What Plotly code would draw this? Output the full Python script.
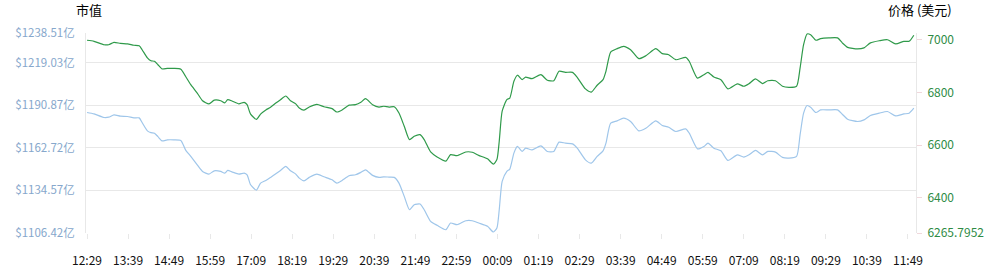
import pandas as pd
import plotly.graph_objects as go

# ---- data ----
times = [
    "12:29", "12:41", "12:58", "13:06", "13:15", "13:26", "13:38", "13:49", "13:58", "14:03",
    "14:12", "14:18", "14:24", "14:30", "14:37", "14:46", "14:57", "15:09", "15:17", "15:26",
    "15:37", "15:46", "15:57", "16:06", "16:17", "16:24", "16:29", "16:37", "16:48", "16:57",
    "17:02", "17:08", "17:18", "17:25", "17:34", "17:42", "17:51", "17:59", "18:08", "18:16",
    "18:25",
    "18:31", "18:39", "18:48", "19:01", "19:13", "19:27", "19:35", "19:44", "19:56", "20:07",
    "20:16", "20:24", "20:36", "20:47", "20:55", "21:04", "21:13", "21:21", "21:30", "21:39",
    "21:47", "21:57", "22:04", "22:15", "22:26", "22:41", "22:49", "23:00", "23:15", "23:26",
    "23:37", "23:52", "00:02", "00:08", "00:12", "00:17",
    "00:25", "00:30", "00:37", "00:43", "00:51", "00:57", "01:08", "01:23", "01:34", "01:45",
    "01:54", "02:05", "02:17", "02:25", "02:39", "02:49", "02:59", "03:09", "03:14", "03:22",
    "03:33", "03:44", "03:56", "04:10", "04:22", "04:39", "04:50", "05:01", "05:13", "05:30",
    "05:36", "05:50", "06:01", "06:08",
    "06:18", "06:30", "06:42", "06:58", "07:09", "07:18", "07:29", "07:41", "07:50", "08:03",
    "08:15", "08:26", "08:39", "08:45", "08:51", "08:57", "09:03", "09:12", "09:20", "09:34",
    "09:49", "09:57", "10:06", "10:23", "10:34", "10:45", "11:00", "11:14", "11:28", "11:42",
    "11:51", "11:59",
]

price_usd = [
    6999, 6995, 6982, 6982, 6991, 6987, 6985, 6980, 6978, 6963,
    6932, 6921, 6919, 6906, 6890, 6892, 6892, 6889, 6862, 6830,
    6798, 6769, 6757, 6771, 6769, 6761, 6773, 6767, 6757, 6763,
    6754, 6718, 6698, 6718, 6734, 6744, 6760, 6773, 6787, 6769,
    6757,
    6741, 6733, 6745, 6755, 6746, 6739, 6726, 6734, 6752, 6754,
    6763, 6777, 6754, 6745, 6748, 6745, 6746, 6722, 6672, 6621,
    6634, 6640, 6621, 6574, 6555, 6539, 6564, 6560, 6574, 6573,
    6561, 6548, 6528, 6545, 6615, 6729,
    6773, 6779, 6843, 6866, 6849, 6859, 6853, 6868, 6847, 6845,
    6881, 6877, 6877, 6858, 6814, 6802, 6828, 6849, 6881, 6954,
    6967, 6976, 6963, 6929, 6940, 6967, 6948, 6944, 6925, 6934,
    6919, 6855, 6868, 6877,
    6859, 6849, 6814, 6833, 6824, 6834, 6852, 6834, 6845, 6845,
    6824, 6820, 6824, 6893, 6982, 7023, 7020, 6999, 7005, 7008,
    7008, 6989, 6972, 6966, 6970, 6989, 6997, 7001, 6985, 6995,
    6995, 7018,
]

market_cap_yi = [
    1186.00, 1185.07, 1182.70, 1182.90, 1184.42, 1183.56, 1183.36, 1182.44, 1182.44, 1179.40,
    1173.87, 1172.68, 1172.35, 1170.04, 1167.27, 1167.93, 1167.93, 1167.54, 1161.34, 1156.99,
    1151.45, 1147.10, 1145.32, 1147.49, 1147.10, 1145.98, 1147.76, 1146.64, 1145.32, 1145.98,
    1144.86, 1138.26, 1134.77, 1139.39, 1141.16, 1143.14, 1145.52, 1147.76, 1150.40, 1147.49,
    1145.32,
    1142.68, 1140.90, 1143.14, 1145.32, 1143.54, 1141.56, 1139.39, 1141.16, 1144.20, 1144.86,
    1146.44, 1148.15, 1144.46, 1143.14, 1143.54, 1143.34, 1143.14, 1139.39, 1130.62, 1121.78,
    1125.08, 1125.54, 1121.78, 1114.13, 1111.50, 1108.60, 1113.01, 1111.89, 1114.53, 1114.53,
    1113.01, 1110.84, 1107.08, 1109.72, 1121.78, 1140.51,
    1147.10, 1148.62, 1159.16, 1163.58, 1160.28, 1162.46, 1161.34, 1163.98, 1160.28, 1160.28,
    1166.42, 1165.76, 1165.30, 1162.46, 1154.75, 1152.57, 1156.99, 1160.68, 1165.76, 1178.94,
    1180.46, 1182.24, 1180.06, 1173.87, 1175.65, 1180.46, 1177.43, 1176.31, 1173.47, 1175.18,
    1172.35, 1162.00, 1163.58, 1165.76,
    1162.46, 1160.68, 1154.35, 1158.04, 1156.53, 1158.04, 1160.94, 1158.04, 1160.28, 1159.82,
    1156.33, 1155.87, 1156.99, 1171.23, 1185.54, 1190.61, 1189.49, 1186.00, 1187.71, 1187.71,
    1187.71, 1184.88, 1181.58, 1180.06, 1181.12, 1184.02, 1185.54, 1186.66, 1183.76, 1185.07,
    1185.54, 1188.83,
]

cap_ticks = [1106.42, 1134.57, 1162.72, 1190.87, 1219.03, 1238.51]
price_ticks = [6265.7952, 6400, 6600, 6800, 7000]
price_tick_labels = ["6265.7952", "6400", "6600", "6800", "7000"]

# ---- build datetimes (the series crosses midnight) ----
base = pd.Timestamp("2018-08-10")
x = []
day = 0
prev = None
for t in times:
    hh, mm = map(int, t.split(":"))
    m = hh * 60 + mm
    if prev is not None and m < prev:
        day += 1
    prev = m
    x.append(base + pd.Timedelta(days=day, minutes=m))

start = x[0]
tick_times = list(pd.date_range(start, periods=21, freq="70min"))
tick_text = [t.strftime("%H:%M") for t in tick_times]

FONT = "Noto Sans CJK SC, Noto Sans, sans-serif"
GREEN = "#2f9a4a"
BLUE = "#9fc6ea"
GRID = "#e8e8e8"

fig = go.Figure()
fig.add_trace(go.Scatter(
    x=x, y=market_cap_yi, mode="lines", name="市值",
    line=dict(color=BLUE, width=1.2, shape="spline", smoothing=0.6),
    yaxis="y",
))
fig.add_trace(go.Scatter(
    x=x, y=price_usd, mode="lines", name="价格",
    line=dict(color=GREEN, width=1.2, shape="spline", smoothing=0.6),
    yaxis="y2",
))

fig.update_layout(
    width=987, height=270,
    margin=dict(l=86, r=71, t=33, b=37),
    paper_bgcolor="white", plot_bgcolor="white",
    showlegend=False,
    font=dict(family=FONT, size=12, color="#000"),
    xaxis=dict(
        type="date", automargin=False,
        range=[start - pd.Timedelta(minutes=1.7), start + pd.Timedelta(minutes=1413.7)],
        tickvals=tick_times, ticktext=tick_text,
        showgrid=False, zeroline=False,
        showline=False,
        ticks="outside", ticklen=5, tickcolor=GRID,
        ticklabelstandoff=12,
        tickfont=dict(family=FONT, size=12, color="#111"),
    ),
    yaxis=dict(
        automargin=False,
        range=[cap_ticks[0], cap_ticks[-1]],
        tickvals=cap_ticks,
        ticktext=[f"${v:.2f}亿" for v in cap_ticks],
        showgrid=True, gridcolor=GRID, gridwidth=1,
        zeroline=False,
        showline=True, linecolor=GRID, linewidth=1,
        ticks="", ticklabelstandoff=8,
        tickfont=dict(family=FONT, size=11.5, color="#86a7cc"),
    ),
    yaxis2=dict(
        automargin=False,
        overlaying="y", side="right",
        range=[6265.7952, 7026.6],
        tickvals=price_ticks, ticktext=price_tick_labels,
        showgrid=False, zeroline=False,
        showline=True, linecolor=GRID, linewidth=1,
        ticks="outside", ticklen=5, tickcolor="#f0d8dc",
        ticklabelstandoff=3,
        tickfont=dict(family=FONT, size=12, color="#2e8b45"),
    ),
    annotations=[
        dict(text="市值", xref="paper", yref="paper", x=-0.015, y=1.0,
             xanchor="left", yanchor="bottom", yshift=12, showarrow=False,
             font=dict(family=FONT, size=13, color="#000")),
        dict(text="价格 (美元)", xref="paper", yref="paper", x=1.0, y=1.0,
             xanchor="left", yanchor="bottom", xshift=-30, yshift=12, showarrow=False,
             font=dict(family=FONT, size=13, color="#000")),
    ],
)

fig.write_html("out.html")
